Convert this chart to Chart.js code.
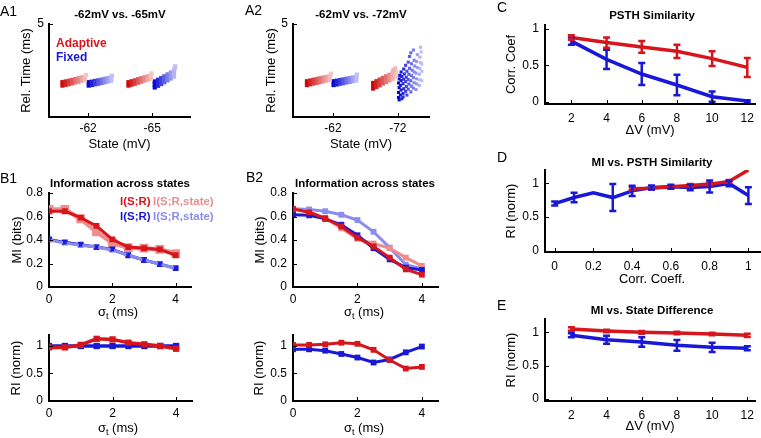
<!DOCTYPE html>
<html>
<head>
<meta charset="utf-8">
<script src="https://cdn.jsdelivr.net/npm/chart.js@4/dist/chart.umd.min.js"></script>
<style>
body { margin: 0; background: #fff; }
#fig { position: relative; width: 761px; height: 438px; overflow: hidden; font-family: "Liberation Sans", Arial, sans-serif; color: #000; }
canvas { position: absolute; }
.c { position: absolute; white-space: nowrap; line-height: 1; transform: translate(-50%, -50%); }
.l { position: absolute; white-space: nowrap; line-height: 1; transform: translate(0, -50%); }
.let { font-size: 14px; }
.ttl { font-size: 11.5px; font-weight: bold; }
.leg { font-size: 12px; font-weight: bold; }
.legb { font-size: 11.5px; font-weight: bold; }
.ax { font-size: 13px; }
.ax sub { font-size: 9px; vertical-align: -3px; line-height: 0; }
</style>
</head>
<body>
<div id="fig">
  <canvas id="a1"></canvas>
  <canvas id="a2"></canvas>
  <canvas id="b1"></canvas>
  <canvas id="b1r"></canvas>
  <canvas id="b2"></canvas>
  <canvas id="b2r"></canvas>
  <canvas id="c"></canvas>
  <canvas id="d"></canvas>
  <canvas id="e"></canvas>

  <div class="l let" style="left:0px;top:11px">A1</div>
  <div class="l let" style="left:245px;top:10px">A2</div>
  <div class="l let" style="left:0px;top:178px">B1</div>
  <div class="l let" style="left:246px;top:177px">B2</div>
  <div class="l let" style="left:497px;top:7px">C</div>
  <div class="l let" style="left:497px;top:157px">D</div>
  <div class="l let" style="left:497px;top:305px">E</div>

  <div class="c ttl" style="left:120px;top:15px">-62mV vs. -65mV</div>
  <div class="c ttl" style="left:361px;top:15px">-62mV vs. -72mV</div>
  <div class="c ttl" style="left:120px;top:184px">Information across states</div>
  <div class="c ttl" style="left:365px;top:184px">Information across states</div>
  <div class="c ttl" style="left:652px;top:16px">PSTH Similarity</div>
  <div class="c ttl" style="left:652px;top:163px">MI vs. PSTH Similarity</div>
  <div class="c ttl" style="left:652px;top:311px">MI vs. State Difference</div>

  <div class="l leg" style="left:56px;top:43px;color:rgb(214,22,28)">Adaptive</div>
  <div class="l leg" style="left:56px;top:57px;color:rgb(24,24,214)">Fixed</div>

  <div class="l legb" style="left:120px;top:202px;color:rgb(214,22,28)">I(S;R)</div>
  <div class="l legb" style="left:153px;top:202px;color:rgb(236,142,142)">I(S;R,state)</div>
  <div class="l legb" style="left:120px;top:217px;color:rgb(24,24,214)">I(S;R)</div>
  <div class="l legb" style="left:153px;top:217px;color:rgb(140,140,238)">I(S;R,state)</div>

  <div class="c ax" style="left:118px;top:311px">σ<sub>t</sub> (ms)</div>
  <div class="c ax" style="left:118px;top:427px">σ<sub>t</sub> (ms)</div>
  <div class="c ax" style="left:364px;top:311px">σ<sub>t</sub> (ms)</div>
  <div class="c ax" style="left:364px;top:427px">σ<sub>t</sub> (ms)</div>
  <div class="c ax" style="left:652px;top:278px">Corr. Coeff.</div>
</div>

<script>
// A1 / A2: spike time vs. trial, grouped by state (1 = first state, 2 = second state)
const aXTicks = [1, 2];
const a1XLabels = ['-62', '-65'];
const a2XLabels = ['-62', '-72'];
const aYTicks = [5];
const aYLabels = ['5'];

const a1AdaptS1 = [[0.60,1.69],[0.60,1.87],[0.65,1.73],[0.65,1.91],[0.70,1.77],[0.70,1.95],[0.75,1.81],[0.75,1.99],[0.80,1.86],[0.80,2.04],[0.85,1.90],[0.85,2.08],[0.90,1.95],[0.90,2.13],[0.95,1.99],[0.95,2.17],[0.97,2.26]];
const a1FixedS1 = [[1.01,1.69],[1.01,1.87],[1.06,1.72],[1.06,1.90],[1.11,1.76],[1.11,1.94],[1.16,1.79],[1.16,1.97],[1.21,1.83],[1.21,2.01],[1.26,1.87],[1.26,2.05],[1.31,1.91],[1.31,2.09],[1.36,1.95],[1.36,2.13],[1.37,2.22]];
const a1AdaptS2 = [[1.63,1.69],[1.63,1.87],[1.68,1.74],[1.68,1.92],[1.73,1.79],[1.73,1.97],[1.78,1.85],[1.78,2.03],[1.83,1.90],[1.83,2.08],[1.88,1.96],[1.88,2.14],[1.93,2.01],[1.93,2.19],[1.98,2.06],[1.98,2.24],[1.99,2.34]];
const a1FixedS2 = [[2.04,1.59],[2.04,1.75],[2.04,1.91],[2.09,1.68],[2.09,1.84],[2.09,2.00],[2.14,1.77],[2.14,1.93],[2.14,2.09],[2.19,1.87],[2.19,2.03],[2.19,2.19],[2.24,1.97],[2.24,2.13],[2.24,2.29],[2.29,2.07],[2.29,2.23],[2.29,2.39],[2.34,2.17],[2.34,2.33],[2.34,2.49],[2.35,2.62],[2.36,2.72]];

const a2AdaptS1 = [[0.60,1.72],[0.60,1.92],[0.65,1.76],[0.65,1.96],[0.70,1.80],[0.70,2.00],[0.75,1.84],[0.75,2.04],[0.80,1.88],[0.80,2.08],[0.85,1.92],[0.85,2.12],[0.90,1.96],[0.90,2.16],[0.95,2.00],[0.95,2.20],[0.97,2.33]];
const a2FixedS1 = [[1.01,1.72],[1.01,1.92],[1.06,1.75],[1.06,1.95],[1.11,1.79],[1.11,1.99],[1.16,1.82],[1.16,2.02],[1.21,1.86],[1.21,2.06],[1.26,1.89],[1.26,2.09],[1.31,1.93],[1.31,2.13],[1.36,1.96],[1.36,2.16],[1.37,2.28]];
const a2AdaptS2 = [[1.62,1.53],[1.62,1.68],[1.62,1.83],[1.67,1.62],[1.67,1.77],[1.67,1.92],[1.72,1.71],[1.72,1.86],[1.72,2.01],[1.77,1.80],[1.77,1.95],[1.77,2.10],[1.82,1.89],[1.82,2.04],[1.82,2.19],[1.87,1.97],[1.87,2.12],[1.87,2.27],[1.92,2.06],[1.92,2.21],[1.92,2.36],[1.97,2.15],[1.97,2.30],[1.97,2.45],[1.96,2.62],[1.93,2.52]];
const a2FixedS2 = [
  [2.01,1.05],[2.01,1.32],[2.02,1.58],[2.01,1.83],[2.02,2.05],[2.03,2.24],[2.02,0.92],
  [2.04,1.18],[2.05,1.45],[2.04,1.70],[2.05,1.96],[2.06,2.18],[2.05,2.42],[2.06,0.98],
  [2.08,1.26],[2.09,1.52],[2.08,1.79],[2.09,2.03],[2.10,2.31],[2.09,2.58],[2.08,1.07],
  [2.12,1.38],[2.13,1.64],[2.12,1.90],[2.13,2.14],[2.14,2.46],[2.12,2.78],[2.14,1.18],
  [2.16,1.50],[2.17,1.77],[2.16,2.02],[2.17,2.30],[2.18,2.62],[2.16,2.95],[2.18,3.25],
  [2.20,1.35],[2.21,1.66],[2.20,1.95],[2.21,2.22],[2.22,2.52],[2.21,2.86],[2.20,3.45],
  [2.24,1.55],[2.25,1.84],[2.24,2.12],[2.25,2.42],[2.26,2.74],[2.25,3.05],[2.24,3.60],
  [2.28,1.48],[2.29,1.78],[2.29,2.05],[2.28,2.36],[2.30,2.66],[2.29,2.98],[2.30,3.35],
  [2.33,1.70],[2.34,2.00],[2.33,2.30],[2.34,2.60],[2.35,2.92],[2.34,3.22],[2.35,3.75],
  [2.37,1.95],[2.37,2.45],[2.37,2.85],[2.36,3.50]];

// B1 / B2: mutual information and RI vs. jitter sigma_t
const sigmaT = [0, 0.5, 1, 1.5, 2, 2.5, 3, 3.5, 4];
const bXTicks = [0, 2, 4];
const bXLabels = ['0', '2', '4'];
const miYTicks = [0, 0.2, 0.4, 0.6, 0.8];
const miYLabels = ['0', '0.2', '0.4', '0.6', '0.8'];
const riYTicks = [0, 0.5, 1];
const riYLabels = ['0', '0.5', '1'];

const b1MiAdapt      = [0.645, 0.645, 0.59, 0.52, 0.405, 0.34, 0.33, 0.32, 0.27];
const b1MiAdaptState = [0.66, 0.66, 0.58, 0.47, 0.375, 0.335, 0.33, 0.32, 0.285];
const b1MiFixed      = [0.405, 0.38, 0.36, 0.34, 0.32, 0.27, 0.23, 0.195, 0.16];
const b1MiFixedState = [0.40, 0.375, 0.355, 0.34, 0.315, 0.27, 0.23, 0.195, 0.16];
const b1RiAdapt      = [0.975, 0.975, 1.02, 1.13, 1.12, 1.06, 1.03, 1.0, 0.95];
const b1RiFixed      = [1.0, 1.0, 1.0, 1.0, 1.0, 1.0, 1.0, 1.0, 1.0];

const b2MiAdapt      = [0.665, 0.636, 0.585, 0.515, 0.42, 0.345, 0.25, 0.15, 0.105];
const b2MiAdaptState = [0.665, 0.64, 0.585, 0.50, 0.41, 0.37, 0.33, 0.25, 0.18];
const b2MiFixed      = [0.615, 0.61, 0.58, 0.53, 0.44, 0.33, 0.235, 0.165, 0.145];
const b2MiFixedState = [0.665, 0.66, 0.645, 0.615, 0.57, 0.47, 0.335, 0.19, 0.155];
const b2RiAdapt      = [1.02, 1.02, 1.03, 1.06, 1.04, 0.93, 0.745, 0.59, 0.62];
const b2RiFixed      = [0.94, 0.94, 0.915, 0.855, 0.79, 0.70, 0.755, 0.885, 0.99];

// C / E: vs. state difference
const deltaV = [2, 4, 6, 8, 10, 12];
const dvTicks = [2, 4, 6, 8, 10, 12];
const dvLabels = ['2', '4', '6', '8', '10', '12'];
const cYTicks = [0, 0.5, 1];
const cYLabels = ['0', '0.5', '1'];
const cCorrAdapt = [0.88, 0.81, 0.75, 0.69, 0.59, 0.47];
const cErrAdapt  = [0.03, 0.07, 0.08, 0.09, 0.10, 0.13];
const cCorrFixed = [0.83, 0.58, 0.38, 0.23, 0.07, 0.01];
const cErrFixed  = [0.05, 0.13, 0.15, 0.14, 0.07, 0.01];

const eRiAdapt = [1.05, 1.02, 1.0, 0.99, 0.975, 0.955];
const eErrAdapt = [0.025, 0.02, 0.02, 0.02, 0.02, 0.025];
const eRiFixed = [0.955, 0.89, 0.855, 0.805, 0.775, 0.76];
const eErrFixed = [0.03, 0.06, 0.07, 0.08, 0.07, 0.03];

// D: RI vs. PSTH correlation
const corrFixed = [0, 0.1, 0.2, 0.3, 0.4, 0.5, 0.6, 0.7, 0.8, 0.9, 1.0];
const dRiFixed  = [0.70, 0.79, 0.86, 0.79, 0.89, 0.94, 0.95, 0.94, 0.955, 1.0, 0.82];
const dErrFixed = [0.03, 0.07, 0, 0.2, 0.075, 0.03, 0.03, 0.04, 0.09, 0.04, 0.125];
const corrAdapt = [0.4, 0.5, 0.6, 0.7, 0.8, 0.9, 1.0];
const dRiAdapt  = [0.92, 0.93, 0.95, 0.97, 0.99, 1.03, 1.2];
const dErrAdapt = [0.02, 0.02, 0.02, 0.02, 0.02, 0.02, 0];
const dXTicks = [0, 0.2, 0.4, 0.6, 0.8, 1];
const dXLabels = ['0', '0.2', '0.4', '0.6', '0.8', '1'];

const RED = 'rgb(214,22,28)', BLUE = 'rgb(24,24,214)';
const PINK = 'rgb(236,142,142)', LBLUE = 'rgb(140,140,238)';

Chart.defaults.font.family = '"Liberation Sans", Arial, sans-serif';
Chart.defaults.color = '#000';

function pts(xs, ys) {
    return xs.map((x, i) => ({ x: x, y: ys[i] }));
}

// dark at the start of a cluster, pale at its end
function shade(hue, t) {
    if (hue === 'r') {
        return 'rgb(' + Math.round(205 + 40 * t) + ',' + Math.round(8 + 188 * t) + ',' + Math.round(8 + 188 * t) + ')';
    }
    return 'rgb(' + Math.round(8 + 184 * t) + ',' + Math.round(8 + 184 * t) + ',' + Math.round(212 + 34 * t) + ')';
}

function cluster(pairs, hue, r) {
    const data = pairs.map(p => ({ x: p[0], y: p[1] }));
    const xs = data.map(p => p.x);
    const lo = Math.min(...xs), hi = Math.max(...xs);
    return {
        data: data,
        pointStyle: 'rect',
        pointRadius: r || 3,
        borderWidth: 0,
        backgroundColor: ctx => {
            if (!ctx.raw) return shade(hue, 0);
            return shade(hue, (ctx.raw.x - lo) / (hi - lo));
        }
    };
}

function line(xs, ys, color, width, opts) {
    return Object.assign({
        data: pts(xs, ys),
        showLine: true,
        borderColor: color,
        backgroundColor: color,
        borderWidth: width,
        pointStyle: 'rect',
        pointRadius: 0
    }, opts || {});
}

// vertical error bars with caps, from dataset.errors
const errBars = {
    id: 'errBars',
    afterDatasetsDraw(chart) {
        const { ctx, scales: { x, y } } = chart;
        chart.data.datasets.forEach(ds => {
            if (!ds.errors) return;
            ctx.save();
            ctx.strokeStyle = ds.borderColor;
            ctx.lineWidth = 2.5;
            ds.data.forEach((p, j) => {
                const e = ds.errors[j];
                if (!e) return;
                const px = x.getPixelForValue(p.x);
                const y1 = y.getPixelForValue(p.y - e);
                const y2 = y.getPixelForValue(p.y + e);
                ctx.beginPath();
                ctx.moveTo(px, y1); ctx.lineTo(px, y2);
                ctx.moveTo(px - 3.5, y1); ctx.lineTo(px + 3.5, y1);
                ctx.moveTo(px - 3.5, y2); ctx.lineTo(px + 3.5, y2);
                ctx.stroke();
            });
            ctx.restore();
        });
    }
};

// small inward tick marks like the original axes
const inTicks = {
    id: 'inTicks',
    afterDraw(chart) {
        const { ctx, chartArea: a, scales: { x, y } } = chart;
        ctx.save();
        ctx.strokeStyle = '#000';
        ctx.lineWidth = 1;
        ctx.beginPath();
        x.ticks.forEach(t => {
            const px = Math.round(x.getPixelForValue(t.value)) + 0.5;
            ctx.moveTo(px, a.bottom); ctx.lineTo(px, a.bottom - 4);
        });
        y.ticks.forEach(t => {
            const py = Math.round(y.getPixelForValue(t.value)) + 0.5;
            ctx.moveTo(a.left, py); ctx.lineTo(a.left + 4, py);
        });
        ctx.stroke();
        ctx.restore();
    }
};

function axis(a, size, dir) {
    const title = a.title
        ? { display: true, text: a.title, font: { size: 13 }, color: '#000',
            padding: dir === 'y' ? { top: a.tpad, bottom: 0 } : { top: 0, bottom: a.tpad } }
        : { display: false };
    return {
        type: 'linear',
        min: a.min,
        max: a.max,
        grid: { display: false, drawTicks: false },
        border: { color: '#000', width: 2 },
        ticks: {
            padding: a.pad,
            autoSkip: false,
            maxRotation: 0,
            font: { size: 12 },
            color: '#000',
            callback: (v, i) => a.labels[i]
        },
        title: title,
        afterBuildTicks: s => { s.ticks = a.ticks.map(v => ({ value: v })); },
        afterFit: s => { if (dir === 'x') s.height = size; else s.width = size; }
    };
}

// box = [left, top, width, height] on the page; m = margins round the plot area
function panel(id, box, m, sx, sy, datasets) {
    const cv = document.getElementById(id);
    cv.width = box[2];
    cv.height = box[3];
    cv.style.left = box[0] + 'px';
    cv.style.top = box[1] + 'px';
    return new Chart(cv, {
        type: 'scatter',
        data: { datasets: datasets },
        options: {
            animation: false,
            responsive: false,
            devicePixelRatio: 1,
            layout: { padding: { left: 0, top: m.T, right: m.R, bottom: 0 } },
            plugins: { legend: { display: false }, tooltip: { enabled: false } },
            scales: { x: axis(sx, m.B, 'x'), y: axis(sy, m.L, 'y') }
        },
        plugins: [errBars, inTicks]
    });
}

// ---- A1 ----
panel('a1', [0, 0, 200, 152], { L: 49, T: 24, R: 10, B: 35 },
    { min: 0.39, max: 2.59, ticks: aXTicks, labels: a1XLabels, pad: 4, title: 'State (mV)', tpad: 0 },
    { min: 0, max: 5, ticks: aYTicks, labels: aYLabels, pad: 5, title: 'Rel. Time (ms)', tpad: 19 },
    [cluster(a1AdaptS1, 'r'), cluster(a1FixedS1, 'b'), cluster(a1AdaptS2, 'r'), cluster(a1FixedS2, 'b')]);

// ---- A2 ----
panel('a2', [244, 0, 195, 152], { L: 49, T: 24, R: 10, B: 35 },
    { min: 0.385, max: 2.48, ticks: aXTicks, labels: a2XLabels, pad: 4, title: 'State (mV)', tpad: 0 },
    { min: 0, max: 5, ticks: aYTicks, labels: aYLabels, pad: 5, title: 'Rel. Time (ms)', tpad: 20 },
    [cluster(a2AdaptS1, 'r'), cluster(a2FixedS1, 'b'), cluster(a2AdaptS2, 'r'), cluster(a2FixedS2, 'b', 2.2)]);

// ---- B1 ----
panel('b1', [0, 160, 200, 160], { L: 49, T: 33, R: 8, B: 33 },
    { min: 0, max: 4.5, ticks: bXTicks, labels: bXLabels, pad: 5 },
    { min: 0, max: 0.8, ticks: miYTicks, labels: miYLabels, pad: 6, title: 'MI (bits)', tpad: 10 },
    [
        line(sigmaT, b1MiFixed, BLUE, 0, { showLine: false, pointRadius: 2.5 }),
        line(sigmaT, b1MiFixedState, LBLUE, 3),
        line(sigmaT, b1MiFixed, BLUE, 3, { pointRadius: 2 }),
        line(sigmaT, b1MiAdapt, RED, 3, { pointRadius: 2 }),
        line(sigmaT, b1MiAdaptState, PINK, 4.5, { pointRadius: 3 })
    ]);

panel('b1r', [0, 320, 200, 118], { L: 49, T: 15, R: 8, B: 37 },
    { min: 0, max: 4.5, ticks: bXTicks, labels: bXLabels, pad: 5 },
    { min: 0, max: 1.2, ticks: riYTicks, labels: riYLabels, pad: 6, title: 'RI (norm)', tpad: 9 },
    [
        line(sigmaT, b1RiAdapt, RED, 3.5, { pointRadius: 2 }),
        line(sigmaT, b1RiFixed, BLUE, 3.5, { pointRadius: 2 })
    ]);

// ---- B2 ----
panel('b2', [244, 160, 202, 160], { L: 49, T: 33, R: 8, B: 33 },
    { min: 0, max: 4.5, ticks: bXTicks, labels: bXLabels, pad: 5 },
    { min: 0, max: 0.8, ticks: miYTicks, labels: miYLabels, pad: 6, title: 'MI (bits)', tpad: 9 },
    [
        line(sigmaT, b2MiAdapt, RED, 3, { pointRadius: 2 }),
        line(sigmaT, b2MiFixed, BLUE, 3, { pointRadius: 2 }),
        line(sigmaT, b2MiAdaptState, PINK, 3, { pointRadius: 2 }),
        line(sigmaT, b2MiFixedState, LBLUE, 3, { pointRadius: 2 })
    ]);

panel('b2r', [244, 320, 202, 118], { L: 49, T: 15, R: 8, B: 37 },
    { min: 0, max: 4.5, ticks: bXTicks, labels: bXLabels, pad: 5 },
    { min: 0, max: 1.2, ticks: riYTicks, labels: riYLabels, pad: 6, title: 'RI (norm)', tpad: 8 },
    [
        line(sigmaT, b2RiAdapt, RED, 3, { pointRadius: 2 }),
        line(sigmaT, b2RiFixed, BLUE, 3, { pointRadius: 2 })
    ]);

// ---- C ----
panel('c', [490, 0, 271, 140], { L: 55, T: 25, R: 1, B: 36 },
    { min: 0.5, max: 12.45, ticks: dvTicks, labels: dvLabels, pad: 7, title: 'ΔV (mV)', tpad: 2 },
    { min: -0.03, max: 1.05, ticks: cYTicks, labels: cYLabels, pad: 6, title: 'Corr. Coef', tpad: 14 },
    [
        line(deltaV, cCorrFixed, BLUE, 3.5, { errors: cErrFixed }),
        line(deltaV, cCorrAdapt, RED, 3.5, { errors: cErrAdapt })
    ]);

// ---- D ---- (x title is the html label under the canvas)
panel('d', [490, 140, 271, 150], { L: 55, T: 30, R: 1, B: 38 },
    { min: -0.05, max: 1.06, ticks: dXTicks, labels: dXLabels, pad: 7 },
    { min: -0.02, max: 1.2, ticks: riYTicks, labels: riYLabels, pad: 6, title: 'RI (norm)', tpad: 14 },
    [
        line(corrAdapt, dRiAdapt, RED, 3.5, { errors: dErrAdapt }),
        line(corrFixed, dRiFixed, BLUE, 3.5, { errors: dErrFixed })
    ]);

// ---- E ----
panel('e', [490, 290, 271, 148], { L: 55, T: 29, R: 1, B: 37 },
    { min: 0.5, max: 12.45, ticks: dvTicks, labels: dvLabels, pad: 7, title: 'ΔV (mV)', tpad: 4 },
    { min: -0.03, max: 1.2, ticks: riYTicks, labels: riYLabels, pad: 6, title: 'RI (norm)', tpad: 14 },
    [
        line(deltaV, eRiAdapt, RED, 3.5, { errors: eErrAdapt }),
        line(deltaV, eRiFixed, BLUE, 3.5, { errors: eErrFixed })
    ]);
</script>
</body>
</html>
